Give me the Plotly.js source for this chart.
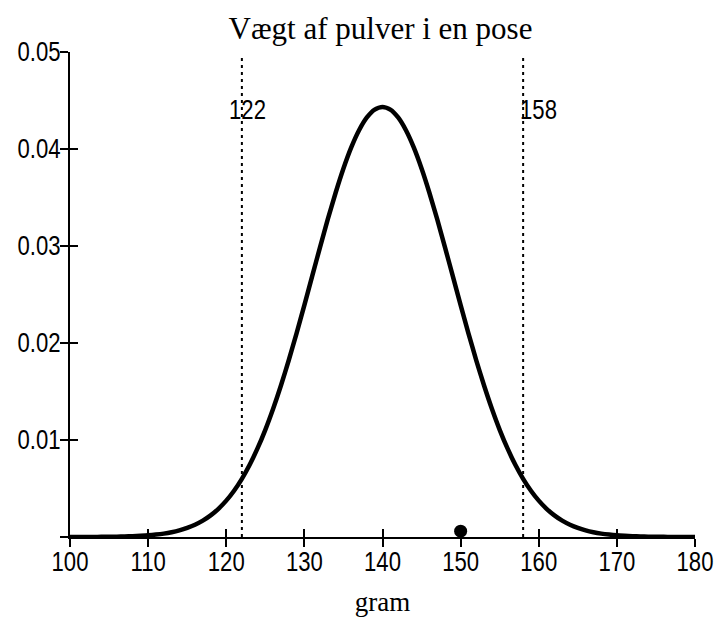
<!DOCTYPE html>
<html>
<head>
<meta charset="utf-8">
<script src="https://cdn.plot.ly/plotly-3.0.1.min.js"></script>
<style>html,body{margin:0;padding:0;background:#fff;}#chart{width:722px;height:617px;}</style>
</head>
<body>
<div id="chart"></div>
<script>
// Data
const gram = [100,101,102,103,104,105,106,107,108,109,110,111,112,113,114,115,116,117,118,119,
              120,121,122,123,124,125,126,127,128,129,130,131,132,133,134,135,136,137,138,139,140,
              141,142,143,144,145,146,147,148,149,150,151,152,153,154,155,156,157,158,159,160,
              161,162,163,164,165,166,167,168,169,170,171,172,173,174,175,176,177,178,179,180];
const density = [0.000002,0.0000037,0.000006,0.0000095,0.000015,0.000023,0.000035,0.000053,0.00008,0.00012,
                 0.00017,0.00025,0.00035,0.00049,0.00068,0.00094,0.00127,0.00169,0.00223,0.00291,
                 0.00375,0.00477,0.00600,0.00745,0.00913,0.01105,0.01322,0.01562,0.01822,0.02100,
                 0.02391,0.02689,0.02986,0.03276,0.03549,0.03799,0.04016,0.04193,0.04325,0.04406,0.04433,
                 0.04406,0.04325,0.04193,0.04016,0.03799,0.03549,0.03276,0.02986,0.02689,0.02391,
                 0.02100,0.01822,0.01562,0.01322,0.01105,0.00913,0.00745,0.00600,0.00477,0.00375,
                 0.00291,0.00223,0.00169,0.00127,0.00094,0.00068,0.00049,0.00035,0.00025,0.00017,
                 0.00012,0.00008,0.000053,0.000035,0.000023,0.000015,0.0000095,0.000006,0.0000037,0.000002];
const limits = [122, 158];
const limitLabels = ['122', '158'];
const limitTop = 0.0494;
const pointX = [150];
const pointY = [0.0006];
const xTicks = [100,110,120,130,140,150,160,170,180];
const yTicks = [0,0.01,0.02,0.03,0.04,0.05];
const yTickText = ['','0.01','0.02','0.03','0.04','0.05'];
const titleText = 'Vægt af pulver i en pose';
const xTitle = 'gram';

const sans = '"Liberation Sans",Arial,sans-serif';
const serif = '"Liberation Serif","Times New Roman",serif';

const traces = [
  {x: gram, y: density, type: 'scatter', mode: 'lines',
   line: {color: '#000', width: 4.5, shape: 'spline', smoothing: 0.6}, hoverinfo: 'skip'},
  {x: [limits[0], limits[0]], y: [0, limitTop], type: 'scatter', mode: 'lines',
   line: {color: '#000', width: 2, dash: '3px,4px'}, hoverinfo: 'skip'},
  {x: [limits[1], limits[1]], y: [0, limitTop], type: 'scatter', mode: 'lines',
   line: {color: '#000', width: 2, dash: '3px,4px'}, hoverinfo: 'skip'},
  {x: pointX, y: pointY, type: 'scatter', mode: 'markers', xaxis: 'x2', yaxis: 'y2',
   marker: {color: '#000', size: 13}, cliponaxis: false, hoverinfo: 'skip'}
];

const tickFont = {family: sans, size: 27, color: '#000'};

const layout = {
  width: 722, height: 617,
  margin: {l: 70, r: 27, t: 52, b: 80},
  paper_bgcolor: '#fff', plot_bgcolor: '#fff',
  showlegend: false,
  title: {text: titleText, font: {family: serif, size: 31, color: '#000'},
          x: 0.527, xanchor: 'center', y: 0.955, yanchor: 'middle'},
  xaxis: {range: [100, 180], tickvals: xTicks, ticktext: xTicks.map(String),
          ticks: 'outside', ticklen: 8, tickwidth: 2, tickcolor: '#000',
          showline: true, linecolor: '#000', linewidth: 2, showgrid: false, zeroline: false,
          tickfont: tickFont, fixedrange: true,
          title: {text: xTitle, font: {family: serif, size: 27, color: '#000'}, standoff: 14}},
  yaxis: {range: [0, 0.05], tickvals: yTicks, ticktext: yTickText,
          ticks: 'outside', ticklen: 8, tickwidth: 2, tickcolor: '#000',
          showline: true, linecolor: '#000', linewidth: 2, showgrid: false, zeroline: false,
          tickfont: tickFont, fixedrange: true},
  xaxis2: {range: [100, 180], overlaying: 'x', anchor: 'y2', tickvals: xTicks,
           ticks: 'inside', ticklen: 8, tickwidth: 2, tickcolor: '#000',
           showticklabels: false, showline: false, showgrid: false, zeroline: false, side: 'bottom'},
  yaxis2: {range: [0, 0.05], overlaying: 'y', anchor: 'x2', tickvals: yTicks,
           ticks: 'inside', ticklen: 8, tickwidth: 2, tickcolor: '#000',
           showticklabels: false, showline: false, showgrid: false, zeroline: false, side: 'left'},
  annotations: [
    {x: limits[0], y: 0.0440, xref: 'x', yref: 'y', text: limitLabels[0], showarrow: false,
     xanchor: 'center', yanchor: 'middle', xshift: 6, font: tickFont},
    {x: limits[1], y: 0.0440, xref: 'x', yref: 'y', text: limitLabels[1], showarrow: false,
     xanchor: 'center', yanchor: 'middle', xshift: 15, font: tickFont}
  ]
};

// Narrow sans lettering: compress sans-serif texts horizontally around their anchor point,
// and pull the tick labels a little closer to the axes as in the reference
function narrowTexts(gd) {
  const groups = [['.xtick text', 0, -8], ['.ytick text', 6, 0], ['.annotation-text', 0, 0]];
  groups.forEach(function (g) {
    gd.querySelectorAll(g[0]).forEach(function (t) {
      const x = parseFloat(t.getAttribute('x') || '0');
      const tr = t.getAttribute('transform') || '';
      t.setAttribute('transform', tr + ' translate(' + (x + g[1]) + ',' + g[2] + ') scale(0.82,1) translate(' + (-x) + ',0)');
    });
  });
}

Plotly.newPlot('chart', traces, layout, {displayModeBar: false, staticPlot: true})
  .then(function (gd) { narrowTexts(gd); });
</script>
</body>
</html>
